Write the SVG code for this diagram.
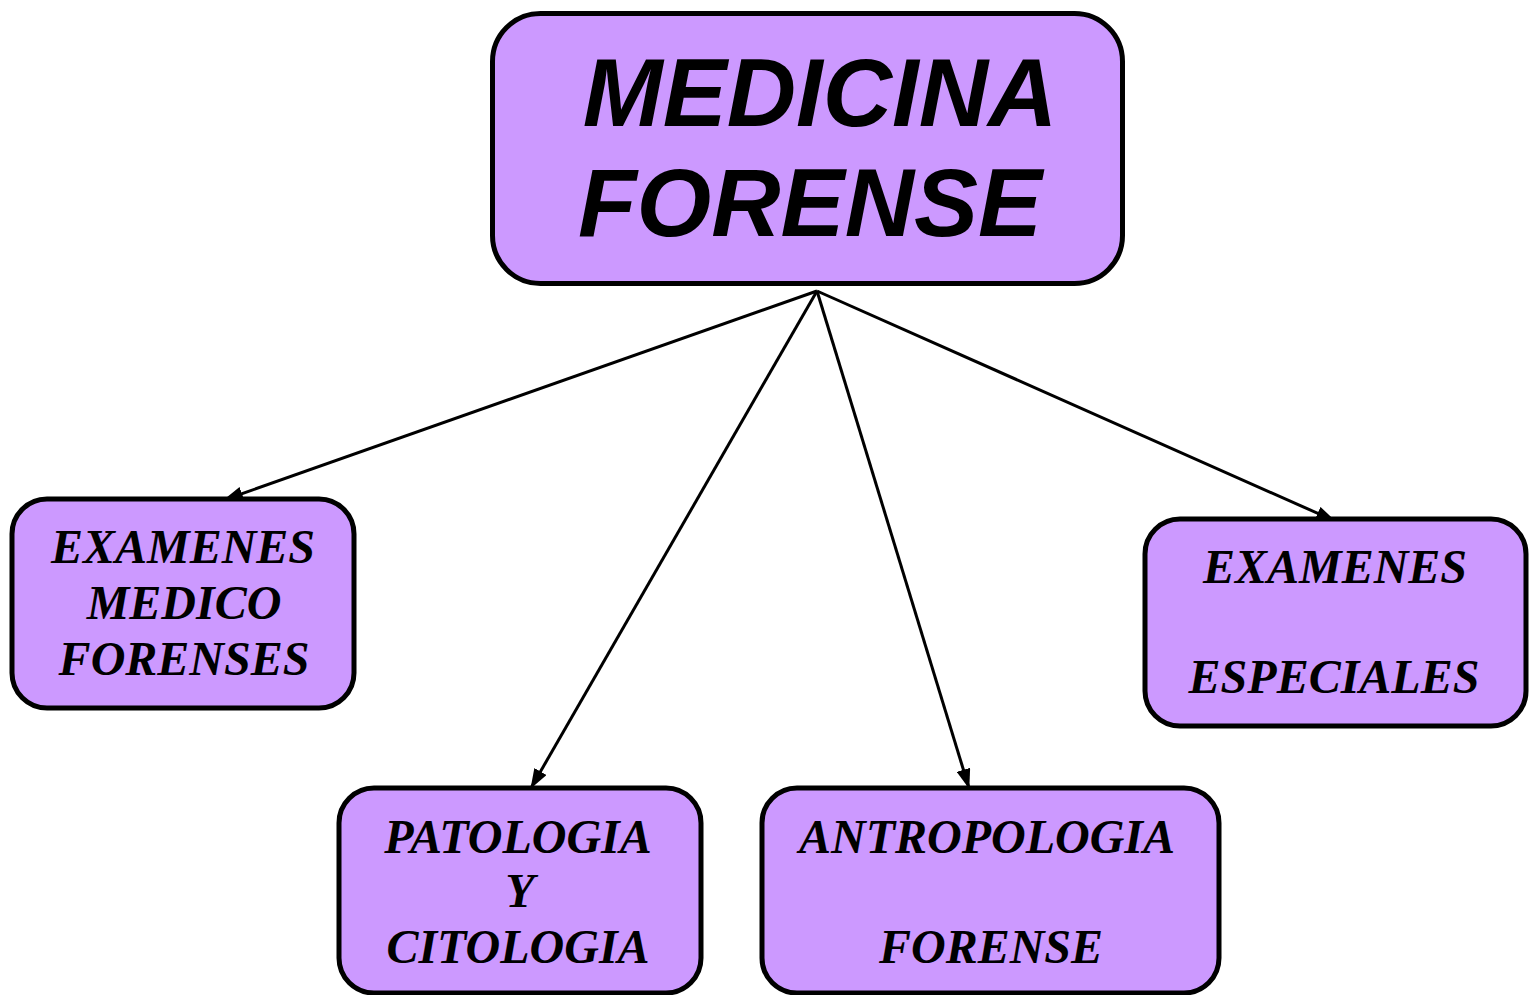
<svg xmlns="http://www.w3.org/2000/svg" width="1530" height="995" viewBox="0 0 1530 995">
<style>
.box{fill:#cc99ff;stroke:#000;stroke-width:5}
.t{font-family:"Liberation Serif","Times New Roman",serif;font-weight:bold;font-style:italic;font-size:48px;fill:#000;text-anchor:middle}
.m{font-family:"Liberation Sans",Arial,sans-serif;font-weight:bold;font-style:italic;font-size:96px;fill:#000;text-anchor:middle}
.c{stroke:#000;stroke-width:3;fill:none;marker-end:url(#ah)}
</style>
<defs>
<marker id="ah" markerWidth="20" markerHeight="14" refX="19" refY="7" orient="auto" markerUnits="userSpaceOnUse">
<path d="M0,0 L20,7 L0,14 Z" fill="#000"/>
</marker>
</defs>
<rect width="1530" height="995" fill="#fff"/>
<g id="connectors">
<line class="c" x1="817" y1="291" x2="224" y2="500"/>
<line class="c" x1="817" y1="291" x2="531" y2="788"/>
<line class="c" x1="817" y1="291" x2="969" y2="788"/>
<line class="c" x1="817" y1="291" x2="1335" y2="521"/>
</g>
<g id="medicina-forense">
<rect class="box" x="492.5" y="13.5" width="630" height="270" rx="48"/>
<text class="m" x="820" y="126">MEDICINA</text>
<text class="m" x="810" y="236">FORENSE</text>
</g>
<g id="examenes-medico-forenses">
<rect class="box" x="12" y="499" width="342" height="209" rx="35"/>
<text class="t" x="183" y="563">EXAMENES</text>
<text class="t" x="184" y="619">MEDICO</text>
<text class="t" x="184" y="675">FORENSES</text>
</g>
<g id="patologia-citologia">
<rect class="box" x="339" y="788" width="362" height="205" rx="35"/>
<text class="t" x="518" y="853">PATOLOGIA</text>
<text class="t" x="520" y="907">Y</text>
<text class="t" x="518" y="963">CITOLOGIA</text>
</g>
<g id="antropologia-forense">
<rect class="box" x="762" y="788" width="457" height="205" rx="35"/>
<text class="t" x="987" y="853">ANTROPOLOGIA</text>
<text class="t" x="991" y="963">FORENSE</text>
</g>
<g id="examenes-especiales">
<rect class="box" x="1145" y="519" width="381" height="207" rx="35"/>
<text class="t" x="1335" y="583">EXAMENES</text>
<text class="t" x="1334" y="693">ESPECIALES</text>
</g>
</svg>
